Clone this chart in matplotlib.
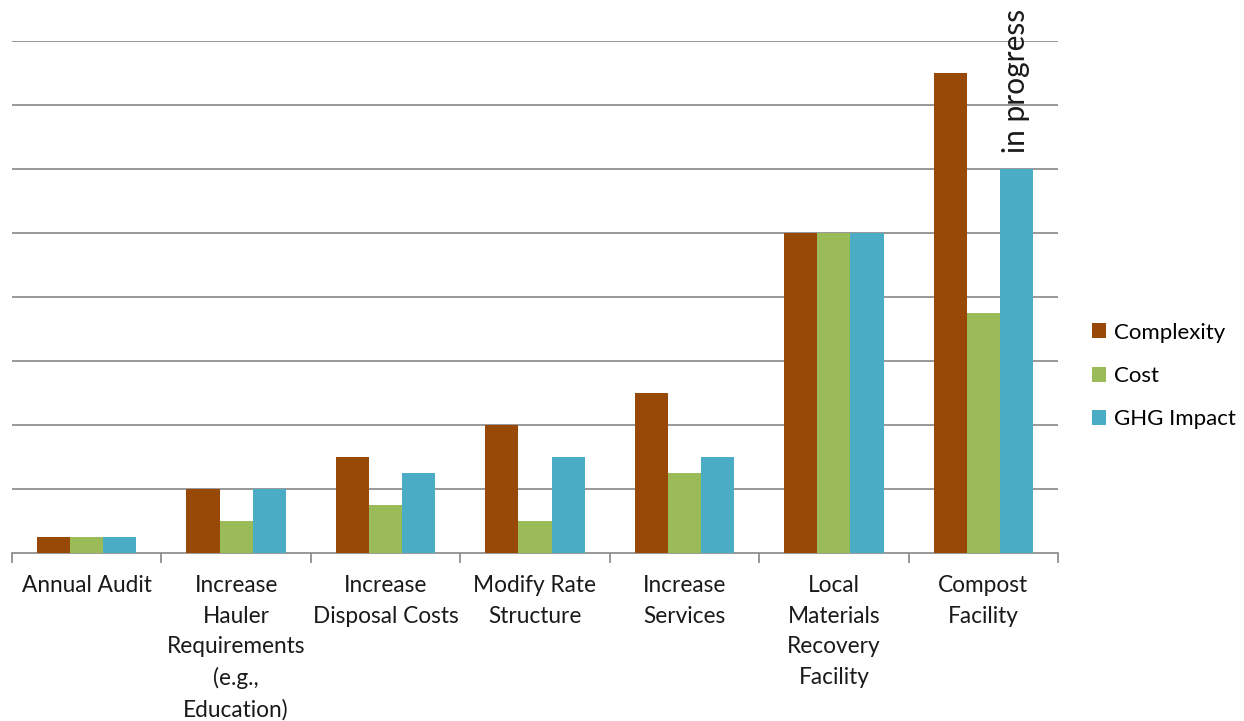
import matplotlib
matplotlib.use("Agg")
import matplotlib.pyplot as plt
import numpy as np

plt.rcParams['font.family'] = ['Lato', 'DejaVu Sans']

categories = [
    "Annual Audit",
    "Increase\nHauler\nRequirements\n(e.g.,\nEducation)",
    "Increase\nDisposal Costs",
    "Modify Rate\nStructure",
    "Increase\nServices",
    "Local\nMaterials\nRecovery\nFacility",
    "Compost\nFacility",
]
complexity = [0.25, 1.0, 1.5, 2.0, 2.5, 5.0, 7.5]
cost = [0.25, 0.5, 0.75, 0.5, 1.25, 5.0, 3.75]
ghg_impact = [0.25, 1.0, 1.25, 1.5, 1.5, 5.0, 6.0]
series_names = ["Complexity", "Cost", "GHG Impact"]
colors = ["#984807", "#9BBB59", "#4BACC6"]
note_text = "in progress"

fig = plt.figure(figsize=(12.44, 7.21), dpi=100)
ax = fig.add_axes([12 / 1244, 168 / 721, 1046 / 1244, 512 / 721])

x = np.arange(len(categories))
w = 0.222
for i, (vals, name, c) in enumerate(zip([complexity, cost, ghg_impact], series_names, colors)):
    ax.bar(x + (i - 1) * w, vals, width=w, color=c, label=name, zorder=3)

ax.set_xlim(-0.5, len(categories) - 0.5)
ax.set_ylim(0, 8)
ax.set_yticks(np.arange(1, 9))
ax.yaxis.grid(True, color="#868686", linewidth=1.2, zorder=0)
ax.tick_params(axis="y", left=False, labelleft=False)
for s in ["top", "right", "left"]:
    ax.spines[s].set_visible(False)
ax.spines["bottom"].set_color("#868686")
ax.spines["bottom"].set_linewidth(1.2)

# category labels between boundary ticks
ax.set_xticks(x)
ax.set_xticklabels(categories, fontsize=16.3, linespacing=1.56, color="#1a1a1a")
ax.tick_params(axis="x", length=0, pad=16)
ax.set_xticks(np.arange(-0.5, len(categories), 1.0), minor=True)
ax.tick_params(axis="x", which="minor", length=7, width=1.2, color="#868686", direction="out")

# annotation above the compost GHG bar
last = len(categories) - 1
ax.text(last + w, ghg_impact[last] + 0.25, note_text, rotation=90, ha="center", va="bottom",
        fontsize=21.5, color="#1a1a1a", clip_on=False)

leg = ax.legend(loc="center left", frameon=False, fontsize=16,
                handlelength=0.65, handleheight=0.65, handletextpad=0.35, labelspacing=1.05,
                borderaxespad=0.0)
leg.set_bbox_to_anchor((1083 / 1244, (721 - 376) / 721), transform=fig.transFigure)

fig.savefig("out.png", dpi=100)
